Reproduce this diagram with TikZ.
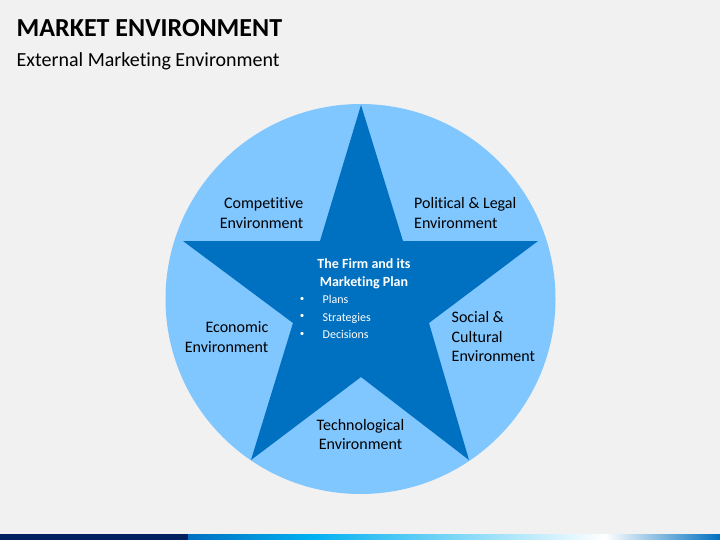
\documentclass[tikz,border=0pt]{standalone}
\usepackage{fontspec}
\setmainfont{Carlito}[Ligatures=CommonOff]
\usetikzlibrary{positioning}
\definecolor{pagebg}{HTML}{F1F1F1}
\definecolor{ringblue}{HTML}{80C6FF}
\definecolor{starblue}{HTML}{0070C0}
\definecolor{barnavy}{HTML}{002060}
\definecolor{barsky}{HTML}{00B0F0}
\tikzset{
  envtext/.style={
    font=\fontsize{16}{19.5}\selectfont,
    text=black,
    inner sep=0pt
  },
  listtext/.style={
    font=\fontsize{12}{17.5}\selectfont,
    text=white,
    align=left,
    inner sep=0pt
  }
}
\begin{document}
\begin{tikzpicture}[x=1pt,y=-1pt]
\useasboundingbox (0,0) rectangle (720,540);
\fill[pagebg] (0,0) rectangle (720,540);
% header
\node[anchor=base west,inner sep=0pt,font=\bfseries\fontsize{26}{30}\selectfont] (title) at (16.5,37) {MARKET ENVIRONMENT};
\node[anchor=base west,inner sep=0pt,font=\fontsize{20}{24}\selectfont] (subtitle) at (16.5,66.5) {External Marketing Environment};
% circle and star
\fill[ringblue] (360.5,299) circle (195);
\fill[starblue] (361,105) -- (403,241) -- (538,241) -- (429,323) -- (469,460)
  -- (361,377) -- (251,460) -- (293,323) -- (183,241) -- (320,241) -- cycle;
% outer labels
\node[envtext,align=right,anchor=east] (compet) at (303.5,213) {Competitive\\Environment};
\node[envtext,align=left,anchor=west] (polit) at (414,213) {Political \& Legal\\Environment};
\node[envtext,align=left,anchor=west] (social) at (451.5,337) {Social \&\\Cultural\\Environment};
\node[envtext,align=right,anchor=east] (econ) at (268.5,337) {Economic\\Environment};
\node[envtext,align=center] (techno) at (360.5,434.5) {Technological\\Environment};
% centre of the star
\node[align=center,text=white,inner sep=0pt,font=\bfseries\fontsize{14}{18}\selectfont] (firm) at (364,274) {The Firm and its\\Marketing Plan};
\node[listtext,anchor=north west] (plans) at (322.5,295) {Plans\\Strategies\\Decisions};
\node[listtext,font=\fontsize{9}{17.5}\selectfont,left=18pt of plans.west,anchor=east] (dots) {•\\•\\•};
% bottom bar
\fill[barnavy] (0,534) rectangle (188,540);
\shade[left color=starblue,right color=barsky] (188,534) rectangle (310,540);
\shade[left color=barsky,right color=white] (310,534) rectangle (605,540);
\shade[left color=white,right color=starblue] (605,534) rectangle (720,540);
\end{tikzpicture}
\end{document}
